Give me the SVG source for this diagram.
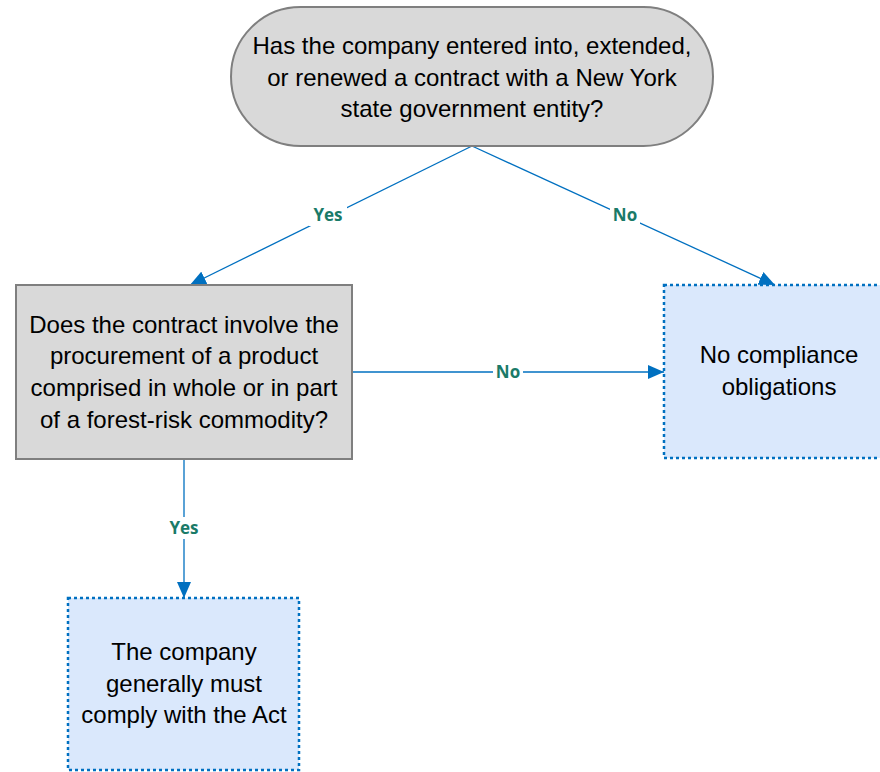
<svg xmlns="http://www.w3.org/2000/svg" width="880" height="772" viewBox="0 0 880 772">
  <style>
    .decision { fill: #d9d9d9; stroke: #7f7f7f; stroke-width: 2; }
    .outcome { fill: #dae8fc; stroke: #0070c0; stroke-width: 2.5; stroke-dasharray: 3 3; }
    .txt { font-family: "Liberation Sans", Arial, sans-serif; font-size: 24px; fill: #000; text-anchor: middle; }
    .edge { fill: none; stroke: #0070c0; stroke-width: 1.3; }
    .lbl-bg { fill: #ffffff; }
    .lbl { font-family: "Open Sans", "Liberation Sans", sans-serif; font-weight: bold; font-size: 17px; fill: #1a7a68; text-anchor: middle; }
  </style>
  <defs>
    <marker id="arrow" markerUnits="userSpaceOnUse" markerWidth="18" markerHeight="14" refX="16" refY="7" orient="auto">
      <path d="M0,0 L16,7 L0,14 Z" fill="#0070c0"/>
    </marker>
  </defs>

  <rect width="880" height="772" fill="#ffffff"/>

  <!-- connectors -->
  <g id="connectors">
    <line class="edge" x1="472" y1="146" x2="190" y2="285" marker-end="url(#arrow)"/>
    <line class="edge" x1="472" y1="146" x2="775" y2="285" marker-end="url(#arrow)"/>
    <line class="edge" x1="352" y1="372" x2="664" y2="372" marker-end="url(#arrow)"/>
    <line class="edge" x1="184" y1="459" x2="184" y2="598" marker-end="url(#arrow)"/>

    <rect class="lbl-bg" x="309" y="204" width="38" height="22"/>
    <text class="lbl" x="328" y="221">Yes</text>
    <rect class="lbl-bg" x="610" y="204" width="30" height="22"/>
    <text class="lbl" x="625" y="221">No</text>
    <rect class="lbl-bg" x="493" y="361" width="30" height="22"/>
    <text class="lbl" x="508" y="378">No</text>
    <rect class="lbl-bg" x="165" y="517" width="38" height="22"/>
    <text class="lbl" x="184" y="534">Yes</text>
  </g>

  <!-- start question -->
  <g id="q-contract">
    <rect class="decision" x="231" y="7" width="482" height="139" rx="69.5" ry="69.5"/>
    <text class="txt" x="472" y="54">Has the company entered into, extended,</text>
    <text class="txt" x="472" y="86">or renewed a contract with a New York</text>
    <text class="txt" x="472" y="117">state government entity?</text>
  </g>

  <!-- second question -->
  <g id="q-commodity">
    <rect class="decision" x="16" y="285" width="336" height="174"/>
    <text class="txt" x="184" y="333">Does the contract involve the</text>
    <text class="txt" x="184" y="364">procurement of a product</text>
    <text class="txt" x="184" y="396">comprised in whole or in part</text>
    <text class="txt" x="184" y="428">of a forest-risk commodity?</text>
  </g>

  <!-- outcome: nothing required -->
  <g id="out-none">
    <rect class="outcome" x="664" y="285" width="230" height="173"/>
    <text class="txt" x="779" y="363">No compliance</text>
    <text class="txt" x="779" y="395">obligations</text>
  </g>

  <!-- outcome: must comply -->
  <g id="out-comply">
    <rect class="outcome" x="68" y="598" width="231" height="172"/>
    <text class="txt" x="184" y="660">The company</text>
    <text class="txt" x="184" y="692">generally must</text>
    <text class="txt" x="184" y="723">comply with the Act</text>
  </g>
</svg>
